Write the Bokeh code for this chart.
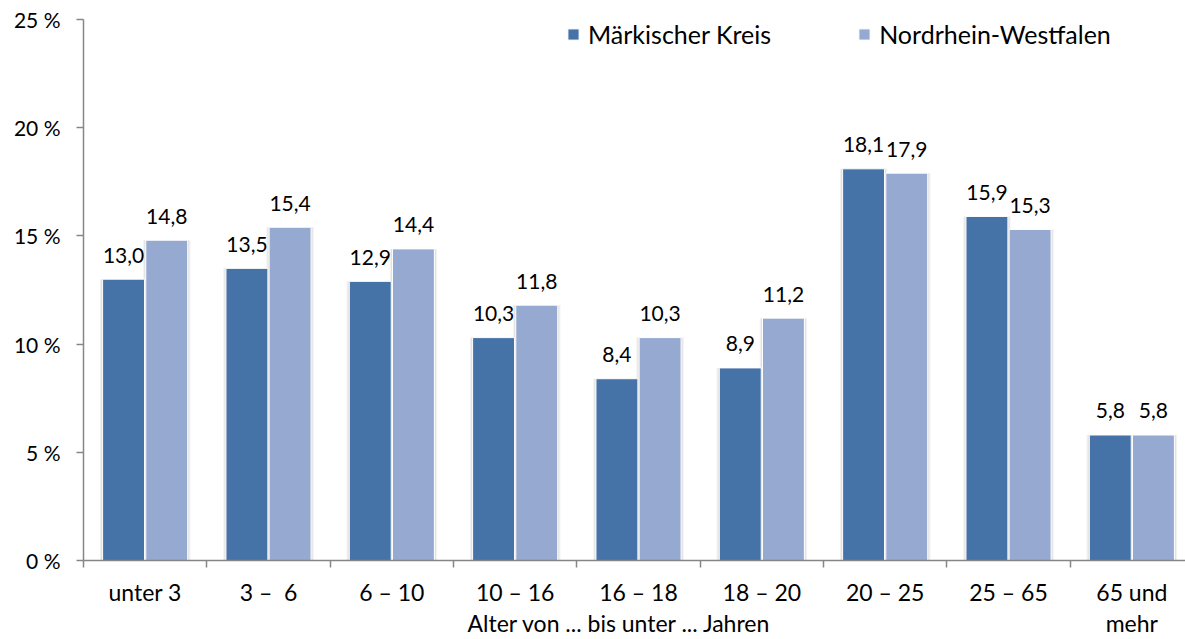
from bokeh.plotting import figure
from bokeh.models import (Range1d, FixedTicker, CustomJSTickFormatter, LinearAxis,
                          Legend, LegendItem, ColumnDataSource)
from bokeh.core.properties import value
from bokeh.embed import file_html
from bokeh.resources import INLINE

# ---- data ----
categories = ["unter 3", "3 – \u00a06", "6 – 10", "10 – 16", "16 – 18",
              "18 – 20", "20 – 25", "25 – 65", "65 und"]
last_label_second_line = "mehr"
maerkischer_kreis = [13.0, 13.5, 12.9, 10.3, 8.4, 8.9, 18.1, 15.9, 5.8]
nordrhein_westfalen = [14.8, 15.4, 14.4, 11.8, 10.3, 11.2, 17.9, 15.3, 5.8]
series_names = ["Märkischer Kreis", "Nordrhein-Westfalen"]
y_ticks = [0, 5, 10, 15, 20, 25]
x_title = "Alter von ... bis unter ... Jahren"

FONT = "Lato"
DARK = "#4572A7"
LIGHT = "#95A9D1"
AXIS = "#868686"

n = len(categories)
centers = [i + 0.5 for i in range(n)]
off = 0.175
bw = 0.34
title_pos = 4.346

def fmt(v):
    return f"{v:.1f}".replace(".", ",")

src1 = ColumnDataSource(dict(x=[c - off for c in centers], top=maerkischer_kreis,
                             lab=[fmt(v) for v in maerkischer_kreis]))
src2 = ColumnDataSource(dict(x=[c + off for c in centers], top=nordrhein_westfalen,
                             lab=[fmt(v) for v in nordrhein_westfalen]))

p = figure(width=1185, height=639, output_backend="svg", toolbar_location=None,
           x_range=Range1d(0, 8.935), y_range=Range1d(0, 25),
           min_border_left=83, min_border_right=0, min_border_top=19,
           min_border_bottom=79)
p.outline_line_color = None
p.xgrid.visible = False
p.ygrid.visible = False

# soft shadows
for src in (src1, src2):
    p.vbar(x="x", top="top", bottom=0, width=bw + 0.045, source=src,
           fill_color="#000000", fill_alpha=0.05, line_color=None)
    p.vbar(x="x", top="top", bottom=0, width=bw + 0.025, source=src,
           fill_color="#000000", fill_alpha=0.07, line_color=None)

r1 = p.vbar(x="x", top="top", bottom=0, width=bw, source=src1,
            fill_color=DARK, line_color="white", line_width=1)
r2 = p.vbar(x="x", top="top", bottom=0, width=bw, source=src2,
            fill_color=LIGHT, line_color="white", line_width=1)

for src in (src1, src2):
    p.text(x="x", y="top", text="lab", source=src, text_align="center",
           text_baseline="middle", y_offset=-24, text_font=value(FONT),
           text_font_size="21px", text_color="#000000")

# x axis
xa = p.xaxis[0]
xa.ticker = FixedTicker(ticks=centers, minor_ticks=list(range(n)))
xa.major_label_overrides = {c: lab for c, lab in zip(centers, categories)}
xa.major_tick_out = 0
xa.major_tick_in = 0
xa.minor_tick_out = 7
xa.minor_tick_in = 0
xa.minor_tick_line_color = AXIS
xa.minor_tick_line_width = 1.5
xa.axis_line_color = AXIS
xa.axis_line_width = 1.5
xa.major_label_standoff = 10
xa.major_label_text_font = FONT
xa.major_label_text_font_size = "23px"
xa.major_label_text_color = "#000000"

# second row below the x axis: continuation of last label and axis title
xa2 = LinearAxis(ticker=FixedTicker(ticks=[title_pos, centers[-1]], minor_ticks=[]),
                 major_label_overrides={title_pos: x_title,
                                        centers[-1]: last_label_second_line},
                 axis_line_color=None, major_tick_line_color=None,
                 minor_tick_line_color=None, major_tick_out=0, major_tick_in=0,
                 minor_tick_out=0, major_label_standoff=0,
                 major_label_text_font=FONT, major_label_text_font_size="23px",
                 major_label_text_color="#000000")
p.add_layout(xa2, "below")

# y axis
ya = p.yaxis[0]
ya.ticker = FixedTicker(ticks=y_ticks, minor_ticks=[])
ya.formatter = CustomJSTickFormatter(code="return tick + ' %';")
ya.major_tick_out = 7
ya.major_tick_in = 0
ya.major_tick_line_color = AXIS
ya.major_tick_line_width = 1.5
ya.axis_line_color = AXIS
ya.axis_line_width = 1.5
ya.major_label_standoff = 16
ya.major_label_text_font = FONT
ya.major_label_text_font_size = "21px"
ya.major_label_text_color = "#000000"

legend = Legend(items=[LegendItem(label=series_names[0], renderers=[r1]),
                       LegendItem(label=series_names[1], renderers=[r2])],
                orientation="horizontal", location=(483, 511),
                glyph_width=14, glyph_height=14, label_standoff=8, spacing=86,
                padding=0, margin=0, border_line_alpha=0, background_fill_alpha=0,
                label_text_font=FONT, label_text_font_size="25px",
                label_text_color="#000000")
p.add_layout(legend)

open("out.html", "w").write(file_html(p, INLINE))
